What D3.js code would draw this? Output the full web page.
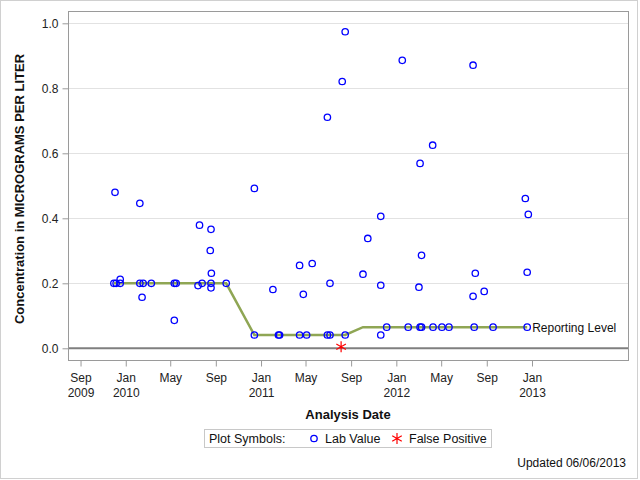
<!DOCTYPE html>
<html><head><meta charset="utf-8">
<script src="https://cdn.jsdelivr.net/npm/d3@7"></script>
<style>body{margin:0;background:#fff}svg{display:block;font-family:"Liberation Sans",Arial,sans-serif}</style>
</head><body>
<script>
const labDates = ["2009-11-30","2009-12-06","2009-12-17","2009-12-17","2009-12-03","2010-02-08","2010-02-17","2010-02-14","2010-02-08","2010-03-11",
"2010-05-12","2010-05-17","2010-05-12","2010-07-15","2010-07-19","2010-07-26","2010-08-19","2010-08-19","2010-08-17","2010-08-20",
"2010-08-19","2010-09-29","2010-12-14","2010-12-14","2011-02-02","2011-02-17","2011-02-20","2011-04-15","2011-04-15","2011-04-25",
"2011-05-04","2011-05-19","2011-06-29","2011-06-29","2011-07-06","2011-07-06","2011-08-08","2011-08-16","2011-08-16","2011-10-03",
"2011-10-16","2011-11-20","2011-11-20","2011-11-20","2011-12-06","2012-01-17","2012-02-02","2012-03-02","2012-03-05","2012-03-09",
"2012-03-09","2012-03-05","2012-04-09","2012-04-08","2012-05-03","2012-05-22","2012-07-26","2012-07-26","2012-07-29","2012-08-01",
"2012-08-25","2012-09-18","2012-12-14","2012-12-22","2012-12-19","2012-12-19"];
const labValues = [0.200,0.200,0.200,0.212,0.480,0.200,0.200,0.157,0.446,0.200,
0.200,0.200,0.086,0.193,0.379,0.200,0.200,0.186,0.301,0.231,
0.366,0.200,0.041,0.492,0.181,0.041,0.041,0.041,0.255,0.166,
0.041,0.261,0.041,0.711,0.041,0.200,0.821,0.974,0.041,0.228,
0.338,0.406,0.194,0.041,0.065,0.886,0.065,0.188,0.065,0.065,
0.286,0.569,0.065,0.625,0.065,0.065,0.871,0.160,0.065,0.231,
0.175,0.065,0.461,0.412,0.234,0.065];
const fpDates = ["2011-08-05"];
const fpValues = [0.005];
const rlDates = ["2009-11-30","2010-09-29","2010-12-14","2011-08-16","2011-10-03","2012-12-19"];
const rlValues = [0.200,0.200,0.041,0.041,0.065,0.065];
const tickDates = ["2009-09-01","2010-01-01","2010-05-01","2010-09-01","2011-01-01","2011-05-01","2011-09-01","2012-01-01","2012-05-01","2012-09-01","2013-01-01"];
const tickMonths = ["Sep","Jan","May","Sep","Jan","May","Sep","Jan","May","Sep","Jan"];
const tickYears = ["2009","2010","","","2011","","","2012","","","2013"];
const yTicks = [0,0.2,0.4,0.6,0.8,1.0];

const parse = d3.utcParse("%Y-%m-%d");
const W=640,H=480;
const L=68.5,R=628.5,T=11.5,B=360.5;
const svg=d3.select("body").append("svg").attr("width",W).attr("height",H);
svg.append("rect").attr("x",0.5).attr("y",0.5).attr("width",637).attr("height",478).attr("fill","#fff").attr("stroke","#d0d0d0");

const x=d3.scaleUtc().domain([parse("2009-07-30"),parse("2013-09-17")]).range([L-0.2,R-0.5]);
const y=d3.scaleLinear().domain([0,1]).range([348.3,23.3]);

// gridlines
svg.append("g").selectAll("line").data(yTicks.filter(v=>v>0)).join("line")
 .attr("x1",L).attr("x2",R).attr("y1",d=>Math.round(y(d))+0.5).attr("y2",d=>Math.round(y(d))+0.5)
 .attr("stroke","#e2e2e2").attr("stroke-width",1);
// zero reference line
svg.append("line").attr("x1",L).attr("x2",R).attr("y1",y(0)).attr("y2",y(0)).attr("stroke","#7f7f7f").attr("stroke-width",2);

// frame
svg.append("rect").attr("x",L).attr("y",T).attr("width",R-L).attr("height",B-T).attr("fill","none").attr("stroke","#9a9a9a");

// y axis
const ya=svg.append("g").attr("transform",`translate(${L},0)`)
 .call(d3.axisLeft(y).tickValues(yTicks).tickFormat(d3.format(".1f")).tickSize(6).tickPadding(4));
ya.select(".domain").remove();
ya.selectAll(".tick line").attr("stroke","#9a9a9a");
ya.selectAll(".tick text").attr("font-size",12).attr("fill","#222").attr("font-family","Liberation Sans, Arial");

// x axis
const xa=svg.append("g").attr("transform",`translate(0,${B})`)
 .call(d3.axisBottom(x).tickValues(tickDates.map(parse)).tickSize(6).tickFormat(""));
xa.select(".domain").remove();
xa.selectAll(".tick line").attr("stroke","#9a9a9a");
xa.selectAll(".tick").each(function(d,i){
  const g=d3.select(this);
  const t=g.append("text").attr("fill","#222").attr("font-size",12).attr("text-anchor","middle").attr("font-family","Liberation Sans, Arial");
  t.append("tspan").attr("x",0).attr("y",21.5).text(tickMonths[i]);
  if(tickYears[i]) t.append("tspan").attr("x",0).attr("y",36).text(tickYears[i]);
});

// axis titles
svg.append("text").attr("x",348).attr("y",418.5).attr("text-anchor","middle").attr("font-weight","bold").attr("font-size",13).attr("fill","#111").text("Analysis Date");
svg.append("text").attr("transform","translate(24,189) rotate(-90)").attr("text-anchor","middle").attr("font-weight","bold").attr("font-size",13).attr("fill","#111").text("Concentration in MICROGRAMS PER LITER");

// reporting level line
const rl=rlDates.map((d,i)=>[parse(d),rlValues[i]]);
svg.append("path").datum(rl).attr("fill","none").attr("stroke","#8fa654").attr("stroke-width",2.5)
 .attr("d",d3.line().x(d=>x(d[0])).y(d=>y(d[1])));
const last=rl[rl.length-1];
svg.append("text").attr("x",x(last[0])+5).attr("y",y(last[1])+4.5).attr("font-size",12).attr("fill","#111").text("Reporting Level");

// lab values
svg.append("g").selectAll("circle").data(labDates.map((d,i)=>[parse(d),labValues[i]])).join("circle")
 .attr("cx",d=>x(d[0])).attr("cy",d=>y(d[1])).attr("r",3.2).attr("fill","none").attr("stroke","#0000ff").attr("stroke-width",1.3);

// false positives
function star(g,cx,cy,s){
  const p=`M${cx},${cy-s}L${cx},${cy+s}M${cx-s*0.87},${cy-s*0.5}L${cx+s*0.87},${cy+s*0.5}M${cx-s*0.87},${cy+s*0.5}L${cx+s*0.87},${cy-s*0.5}`;
  g.append("path").attr("d",p).attr("stroke","#ff0000").attr("stroke-width",1.2).attr("fill","none");
}
const fg=svg.append("g");
fpDates.forEach((d,i)=>star(fg,x(parse(d)),y(fpValues[i]),5.5));

// legend
svg.append("rect").attr("x",204.5).attr("y",429.5).attr("width",287).attr("height",18).attr("fill","#fff").attr("stroke","#c8c8c8");
const lg=svg.append("g").attr("font-size",12.5).attr("fill","#111");
lg.append("text").attr("x",209).attr("y",443).text("Plot Symbols:");
lg.append("circle").attr("cx",314).attr("cy",438.5).attr("r",3.2).attr("fill","none").attr("stroke","#0000ff").attr("stroke-width",1.3);
lg.append("text").attr("x",325).attr("y",443).text("Lab Value");
star(lg,397,438.5,5.5);
lg.append("text").attr("x",409).attr("y",443).text("False Positive");

svg.append("text").attr("x",626).attr("y",467).attr("text-anchor","end").attr("font-size",12).attr("fill","#111").text("Updated 06/06/2013");
</script>
</body></html>
